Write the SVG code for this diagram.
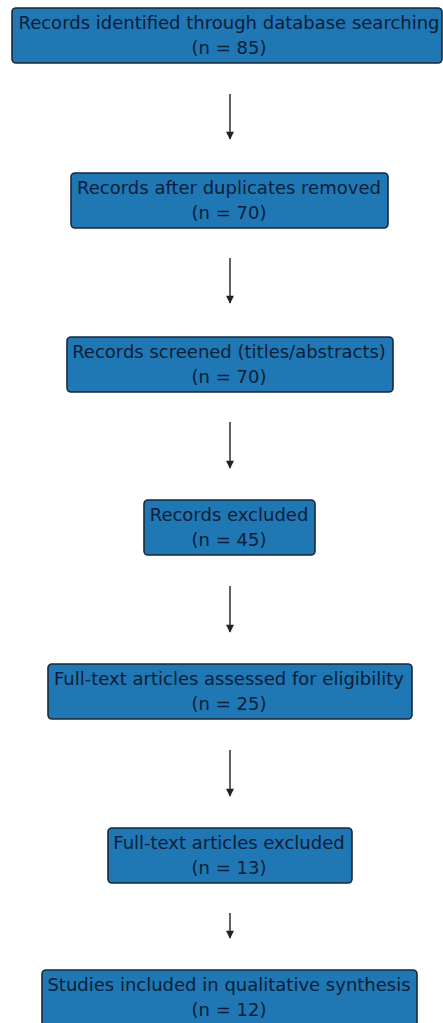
<svg xmlns="http://www.w3.org/2000/svg" width="443" height="1023" viewBox="0 0 443 1023">
<defs>
<marker id="ah" viewBox="0 0 10 10" refX="9" refY="5" markerWidth="9" markerHeight="8" orient="auto" markerUnits="userSpaceOnUse">
<path d="M0,0 L10,5 L0,10 z" fill="#222"/>
</marker>
<style>
.box{fill:#1f77b4;stroke:#1a2838;stroke-width:1.6}
.t{font-family:"DejaVu Sans",sans-serif;font-size:18px;fill:#0b2038;text-anchor:middle}
.c{stroke:#222;stroke-width:1.4;fill:none}
</style>
</defs>
<rect width="443" height="1023" fill="#ffffff"/>
<g id="connectors">
<line class="c" x1="230" y1="94" x2="230" y2="139" marker-end="url(#ah)"/>
<line class="c" x1="230" y1="258" x2="230" y2="303" marker-end="url(#ah)"/>
<line class="c" x1="230" y1="422" x2="230" y2="468" marker-end="url(#ah)"/>
<line class="c" x1="230" y1="586" x2="230" y2="632" marker-end="url(#ah)"/>
<line class="c" x1="230" y1="750" x2="230" y2="796" marker-end="url(#ah)"/>
<line class="c" x1="230" y1="913" x2="230" y2="938" marker-end="url(#ah)"/>
</g>
<g id="n1"><rect class="box" x="12" y="8" width="430" height="55" rx="4"/>
<text class="t" x="229" y="29">Records identified through database searching</text>
<text class="t" x="229" y="54">(n = 85)</text></g>
<g id="n2"><rect class="box" x="71" y="173" width="317" height="55" rx="4"/>
<text class="t" x="229" y="194">Records after duplicates removed</text>
<text class="t" x="229" y="219">(n = 70)</text></g>
<g id="n3"><rect class="box" x="67" y="337" width="326" height="55" rx="4"/>
<text class="t" x="229" y="358">Records screened (titles/abstracts)</text>
<text class="t" x="229" y="383">(n = 70)</text></g>
<g id="n4"><rect class="box" x="144" y="500" width="171" height="55" rx="4"/>
<text class="t" x="229" y="521">Records excluded</text>
<text class="t" x="229" y="546">(n = 45)</text></g>
<g id="n5"><rect class="box" x="48" y="664" width="364" height="55" rx="4"/>
<text class="t" x="229" y="685">Full-text articles assessed for eligibility</text>
<text class="t" x="229" y="710">(n = 25)</text></g>
<g id="n6"><rect class="box" x="108" y="828" width="244" height="55" rx="4"/>
<text class="t" x="229" y="849">Full-text articles excluded</text>
<text class="t" x="229" y="874">(n = 13)</text></g>
<g id="n7"><rect class="box" x="42" y="970" width="375" height="60" rx="4"/>
<text class="t" x="229" y="991">Studies included in qualitative synthesis</text>
<text class="t" x="229" y="1016">(n = 12)</text></g>
</svg>
